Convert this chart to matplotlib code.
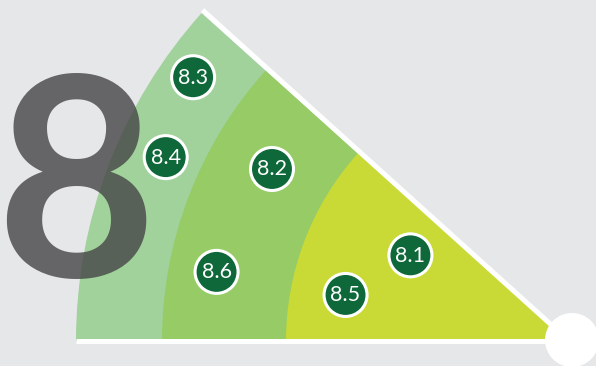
import numpy as np
import matplotlib
matplotlib.use("Agg")
import matplotlib.pyplot as plt
from matplotlib.patches import Wedge, Circle

# band radii (outer edge of each ring, pixels from the fan centre)
band_radii = [491, 405, 281]
band_colors = ["#a1d29b", "#96cb66", "#c9da37"]
fan_angle = 41.9  # degrees above the baseline

# badges: value, distance from fan centre, angle above baseline
badge_values = ["8.3", "8.4", "8.2", "8.6", "8.1", "8.5"]
badge_r = [457, 441, 341, 357, 178, 226]
badge_deg = [35.1, 24.5, 30.1, 11.0, 28.4, 11.5]

big_number = "8"

W, H = 596, 366
cx, cy = 567, 340
bg = "#e6e7e9"
badge_color = "#0f6839"

fig = plt.figure(figsize=(W / 100, H / 100), dpi=100, facecolor=bg)
ax = fig.add_axes([0, 0, 1, 1])
ax.set_xlim(0, W)
ax.set_ylim(H, 0)
ax.set_aspect("equal")
ax.axis("off")
ax.set_facecolor(bg)

# y axis is flipped, so "up" on screen is angles between 180 and 180+fan_angle
for r, c in zip(band_radii, band_colors):
    ax.add_patch(Wedge((cx, cy + 1), r, 180, 180 + fan_angle, facecolor=c,
                       edgecolor="none", zorder=1))

# the white frame: baseline, upper edge, knob at the centre
lw = 5 * 72 / 100
r0 = band_radii[0]
a = np.deg2rad(fan_angle)
ax.plot([cx - r0, cx], [cy + 1, cy + 1], color="white", lw=lw,
        solid_capstyle="butt", zorder=3)
ax.plot([cx - r0 * np.cos(a) + 1, cx], [cy - r0 * np.sin(a) - 2, cy - 1],
        color="white", lw=lw, solid_capstyle="butt", zorder=3)
ax.add_patch(Circle((cx + 5, cy), 27, facecolor="white", edgecolor="none",
                    zorder=4))

# big translucent number
ax.text(76, 277, big_number, fontsize=200, family="Lato", weight="bold",
        color="#454546", alpha=0.8, ha="center", va="baseline", zorder=2)

for v, r, d in zip(badge_values, badge_r, badge_deg):
    t = np.deg2rad(d)
    x, y = cx - r * np.cos(t), cy - r * np.sin(t)
    ax.add_patch(Circle((x, y), 21.5, facecolor=badge_color, edgecolor="white",
                        lw=2.2, zorder=5))
    ax.text(x, y + 0.5, v, fontsize=15.5, family="Lato", color="white",
            ha="center", va="center", zorder=6)

fig.savefig("out.png", dpi=100, facecolor=bg)
